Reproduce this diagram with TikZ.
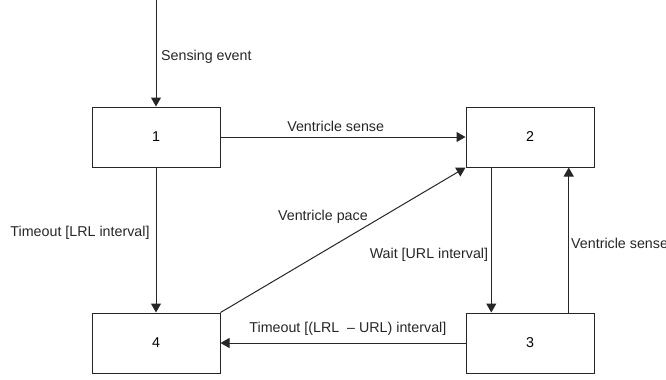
\documentclass[tikz,border=0pt]{standalone}
\usepackage{fontspec}
\setmainfont{Liberation Sans}
\usepackage{tikz}
\usetikzlibrary{arrows.meta, calc, positioning}
\tikzstyle{state} = [rectangle, line width=0.75pt, minimum width=96pt, minimum height=45pt, inner sep=0pt, text centered, draw=black!85]
\tikzstyle{arrow} = [line width=0.75pt, draw=black!85, -{Triangle[length=6.75pt,width=7.5pt]}]
\tikzstyle{edgetext} = [inner sep=3.5pt, text=black!85]

\begin{document}
\begin{tikzpicture}[x=0.75pt, y=-0.75pt, node distance = 10mm, font=\fontsize{10.7pt}{12.8pt}\selectfont]
	\useasboundingbox (0,0) rectangle (666,379);
	\node (State1) [state] at (156,137) {1};
	\node (State2) [state, right = 183.75pt of State1] {2};
	\node (State4) [state, below = 108.75pt of State1] {4};
	\node (State3) [state, below = 108.75pt of State2] {3};
	\coordinate (Entry) at (156,0);
	\path (State2.south west) -- (State2.south east) coordinate[pos=0.2] (State2a) coordinate[pos=0.8] (State2b);
	\path (State3.north west) -- (State3.north east) coordinate[pos=0.2] (State3a) coordinate[pos=0.8] (State3b);
	\draw [arrow] (Entry) -- node[edgetext, right, pos=0.53] {Sensing event} (State1);
	\draw [arrow] (State1) -- node[edgetext, above, pos=0.47] {Ventricle sense} (State2);
	\draw [arrow] (State1) -- node[edgetext, left, inner sep=4.5pt, pos=0.45] {Timeout [LRL interval]} (State4);
	\draw [arrow] (State4.north east) -- node[edgetext, left=7pt, pos=0.66] {Ventricle pace} (State2.south west);
	\draw [arrow] (State2a) -- node[edgetext, left, inner sep=2pt, pos=0.6] {Wait [URL interval]} (State3a);
	\draw [arrow] (State3b) -- node[edgetext, right, inner sep=1.5pt, pos=0.48] {Ventricle sense} (State2b);
	\draw [arrow] (State3) -- node[edgetext, above, pos=0.48, yshift=1.5pt] {Timeout [(LRL\ \ -- URL) interval]} (State4);
	
\end{tikzpicture}
\end{document}
